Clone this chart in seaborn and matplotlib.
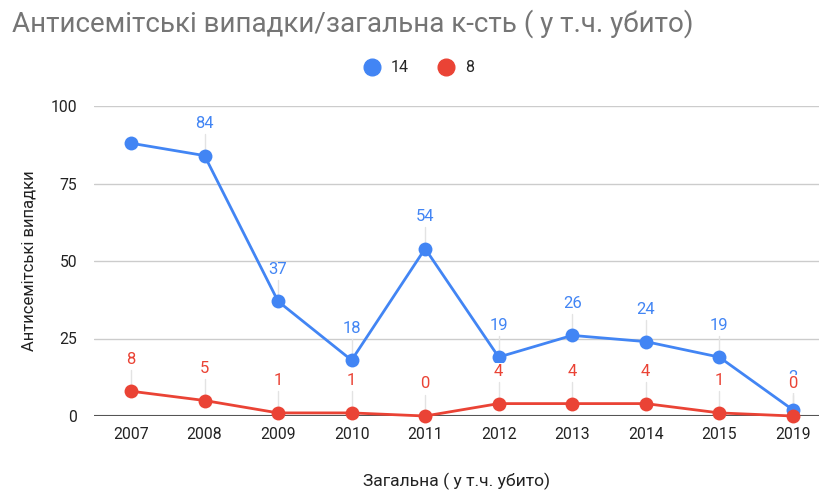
import numpy as np
import pandas as pd
import seaborn as sns
import matplotlib.pyplot as plt
from matplotlib.lines import Line2D

# Data
years = ["2007", "2008", "2009", "2010", "2011", "2012", "2013", "2014", "2015", "2019"]
incidents = [88, 84, 37, 18, 54, 19, 26, 24, 19, 2]   # series "14"
killed = [8, 5, 1, 1, 0, 4, 4, 4, 1, 0]               # series "8"
series_names = ["14", "8"]
hidden_blue_labels = ["2007"]   # label not shown in the original

blue = "#4285F4"
red = "#EA4335"

df = pd.DataFrame({
    "year": years * 2,
    "value": incidents + killed,
    "series": [series_names[0]] * len(years) + [series_names[1]] * len(years),
})

sns.set_style("white")
plt.rcParams["font.family"] = ["Roboto", "DejaVu Sans"]

fig = plt.figure(figsize=(8.2, 4.93), dpi=100)
ax = fig.add_axes([94 / 820, 1 - 416 / 493, 726 / 820, 310 / 493])

sns.lineplot(data=df, x="year", y="value", hue="series", hue_order=series_names,
             palette=[blue, red], marker="o", markersize=10, markeredgewidth=0,
             linewidth=2, sort=False, legend=False, ax=ax, clip_on=False, zorder=3)

ax.set_ylim(0, 100)
ax.set_xlim(-0.503, 9.37)
ax.set_yticks([0, 25, 50, 75, 100])
ax.grid(axis="y", color="#cccccc", linewidth=1)
ax.axhline(0, color="#555555", linewidth=1.5, zorder=2)
for s in ax.spines.values():
    s.set_visible(False)
ax.tick_params(axis="both", length=0, labelsize=11.3, labelcolor="#222222")
ax.tick_params(axis="y", pad=12)
ax.tick_params(axis="x", pad=8)

# data labels with leader lines
off = 32 / 3.1  # ~32 px above the point
for i, (y, v) in enumerate(zip(years, incidents)):
    if y in hidden_blue_labels:
        continue
    ax.plot([i, i], [v + 2.2, v + off - 3.4], color="#e3e3e3", lw=1, zorder=1)
    ax.text(i, v + off, str(v), color=blue, fontsize=12, ha="center", va="center", zorder=4)
for i, (y, v) in enumerate(zip(years, killed)):
    ax.plot([i, i], [v + 2.2, v + off - 3.4], color="#e3e3e3", lw=1, zorder=1)
    ax.text(i, v + off, str(v), color=red, fontsize=12, ha="center", va="center", zorder=5,
            bbox=dict(facecolor="white", edgecolor="none", pad=1.0))

ax.set_xlabel("Загальна ( у т.ч. убито)", fontsize=12.6, color="#222222", labelpad=22)
ax.set_ylabel("Антисемітські випадки", fontsize=12, color="#222222", labelpad=10)

fig.text(12 / 820, 1 - 24 / 493, "Антисемітські випадки/загальна к-сть ( у т.ч. убито)",
         fontsize=20, color="#757575", ha="left", va="center")

handles = [Line2D([], [], marker="o", color=c, linestyle="none", markersize=12) for c in (blue, red)]
fig.legend(handles, series_names, loc="center", bbox_to_anchor=(415 / 820, 1 - 68 / 493),
           ncol=2, frameon=False, fontsize=11.5, handletextpad=0.2, columnspacing=1.3)

fig.savefig("out.png", dpi=100)
